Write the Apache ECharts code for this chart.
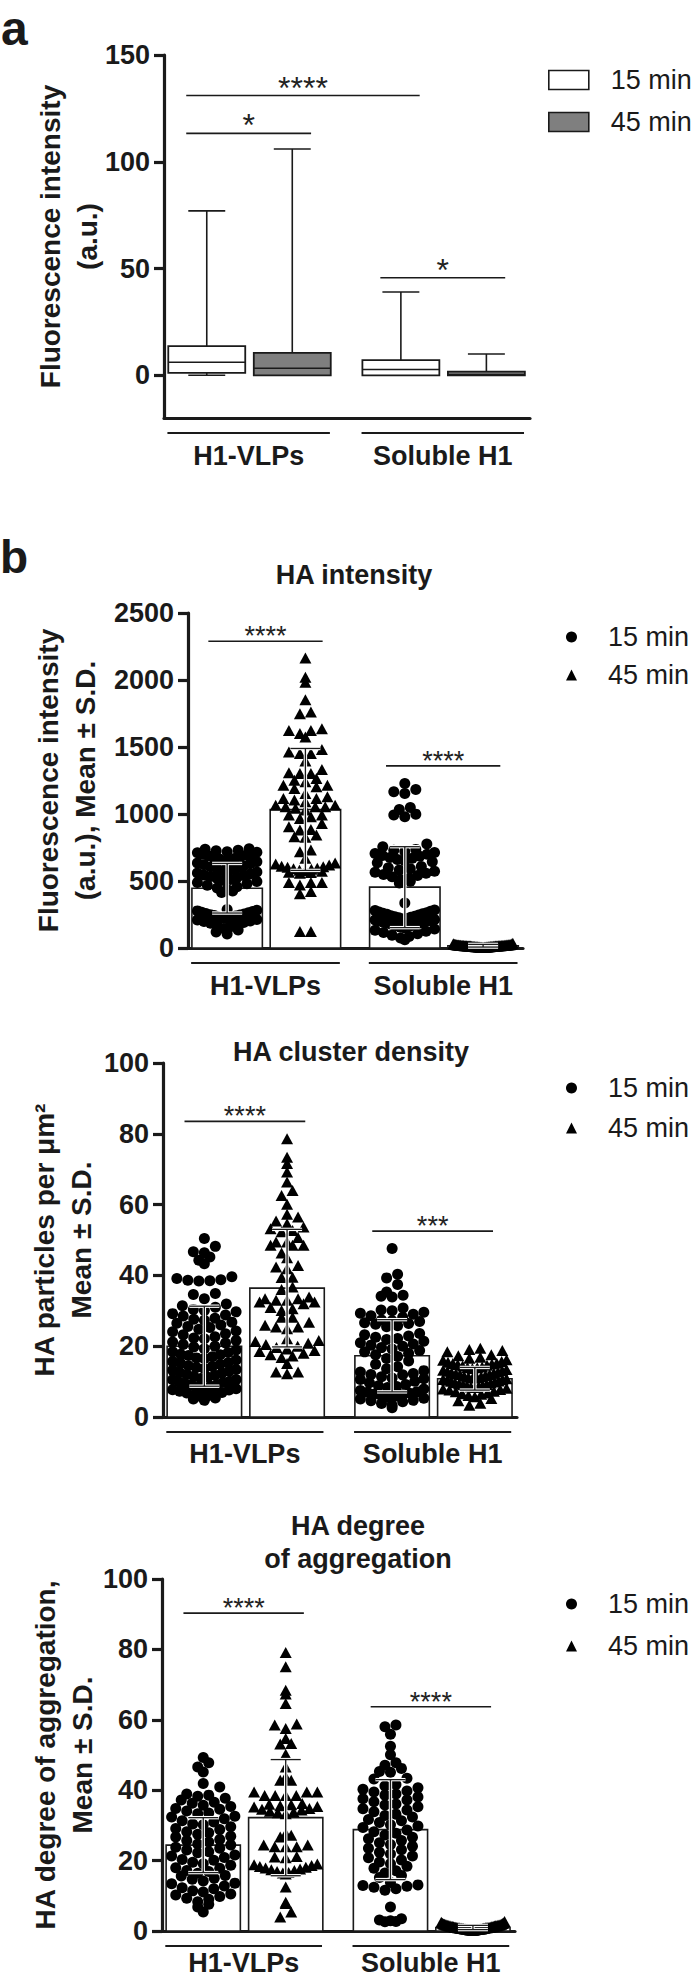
<!DOCTYPE html>
<html>
<head>
<meta charset="utf-8">
<title>HA figure</title>
<script src="https://cdn.jsdelivr.net/npm/echarts@6.0.0/dist/echarts.min.js"></script>
<style>
  html, body { margin: 0; padding: 0; background: #fff; }
  #chart { width: 697px; height: 1981px; }
</style>
</head>
<body>
<div id="chart"></div>
<script>
// groups and time points
const groupNames = ['H1-VLPs', 'Soluble H1'];
const timeNames = ['15 min', '45 min'];

// panel a, box plots: [min, q1, median, q3, max]
const boxH1_15 = [0, 1.1, 6.1, 13.7, 77];
const boxH1_45 = [0, 0, 3.3, 10.5, 106];
const boxSol_15 = [0, 0, 2.7, 7.1, 39];
const boxSol_45 = [0, 0, 0.4, 1.7, 10];
const aTicks = [0, 50, 100, 150];
// significance bars: [from column, to column, height, stars]
const sigA = [[0, 2, 131, '****'], [0, 1, 113.3, '*'], [2, 3, 45.7, '*']];

// panel b, HA intensity (columns: H1 15, H1 45, Sol 15, Sol 45)
const intH1_15 = [741, 737, 730, 726, 719, 714, 711, 703, 699, 692, 688, 683, 676, 669, 666, 657, 650, 644, 634, 628,
  621, 612, 606, 597, 589, 583, 574, 567, 560, 553, 545, 541, 533, 526, 519, 511, 504, 496, 488, 479, 469, 457, 448,
  437, 425, 414, 287, 282, 277, 272, 266, 263, 258, 254, 249, 247, 242, 238, 232, 229, 223, 219, 213, 209, 202, 198,
  191, 184, 175, 167, 158, 146, 134, 119, 105];
const intH1_45 = [2165, 2021, 1984, 1853, 1761, 1748, 1637, 1624, 1624, 1600, 1575, 1481, 1463, 1451, 1451, 1396,
  1332, 1307, 1302, 1302, 1265, 1252, 1240, 1215, 1215, 1203, 1190, 1153, 1128, 1116, 1116, 1104, 1091, 1066, 1066,
  1054, 1054, 1054, 1042, 1029, 992, 992, 980, 967, 930, 905, 885, 880, 843, 831, 826, 732, 719, 670, 634, 627, 619,
  611, 603, 596, 588, 580, 572, 565, 558, 563, 576, 591, 606, 489, 489, 489, 471, 422, 404, 124, 124];
const intSol_15 = [1228, 1183, 1166, 1153, 1049, 1034, 999, 992, 980, 776, 756, 736, 729, 721, 713, 706, 699, 691, 684,
  676, 669, 661, 652, 643, 636, 609, 599, 591, 582, 573, 566, 557, 549, 541, 531, 521, 511, 499, 486, 335, 283, 279,
  274, 269, 263, 259, 255, 251, 246, 241, 237, 233, 229, 225, 221, 217, 213, 209, 205, 201, 197, 193, 189, 185, 181,
  176, 171, 166, 161, 155, 149, 141, 133, 125, 116, 106, 96, 86, 74, 62];
const intSol_45 = [36, 31, 29, 28, 26, 25, 24, 24, 23, 22, 22, 21, 20, 20, 19, 19, 18, 18, 18, 17, 17, 16, 16, 16, 15,
  15, 15, 14, 14, 14, 13, 13, 12, 12, 12, 11, 11, 10, 10, 9, 9, 8, 8, 7, 7, 6, 6, 5, 5, 4, 3, 27, 23, 21, 17, 13, 11,
  9, 19, 15];
const intMean = [446, 1034, 454, 17];
const intSD = [185, 455, 302, 10];
const sigInt = [[0, 1, 2289, '****'], [2, 3, 1359, '****']];

// panel b, HA cluster density
const denH1_15 = [50.4, 48.2, 46.7, 46.4, 45.2, 44.3, 43.3, 39.6, 39.1, 38.8, 38.6, 38.4, 38.5, 34.9, 34.6, 33.4,
  31.9, 31.4, 31.0, 30.4, 30.1, 29.7, 29.2, 28.8, 28.5, 27.9, 27.6, 27.3, 26.8, 26.5, 26.0, 25.6, 25.3, 24.8, 24.3,
  24.1, 23.5, 23.2, 22.7, 22.3, 22.1, 21.6, 21.2, 20.9, 20.5, 20.0, 19.8, 19.3, 18.9, 18.4, 18.2, 17.6, 17.4, 17.0,
  16.5, 16.1, 15.7, 15.3, 14.9, 14.3, 14.0, 13.7, 13.2, 12.9, 12.4, 12.0, 11.8, 11.2, 10.9, 10.5, 10.1, 9.8, 9.4, 9.1,
  8.7, 8.3, 8.0, 7.6, 7.3, 6.9, 6.5, 6.2, 5.8, 5.4, 5.1, 4.7, 6.0, 6.8, 7.7, 8.4, 9.2, 9.9, 10.6, 11.5, 12.6, 13.4,
  14.5, 15.2, 16.7, 17.7];
const denH1_45 = [78.6, 73.4, 71.6, 69.2, 66.4, 64.0, 62.6, 60.1, 57.3, 56.5, 55.4, 54.6, 53.7, 53.2, 52.7, 52.3, 50.7,
  49.4, 49.4, 48.5, 48.5, 48.5, 46.3, 45.0, 42.8, 42.4, 41.9, 39.5, 39.4, 36.7, 36.0, 33.9, 33.4, 33.4, 33.0, 33.0,
  32.5, 32.5, 32.0, 30.9, 30.6, 30.1, 28.2, 28.2, 26.8, 25.9, 25.4, 25.4, 24.9, 22.1, 21.6, 21.3, 20.8, 20.5, 20.0,
  19.6, 19.2, 18.8, 18.5, 18.0, 17.6, 17.2, 16.8, 15.1, 12.7, 12.7, 12.2];
const denSol_15 = [47.6, 40.3, 39.3, 37.4, 35.3, 34.4, 34.1, 33.9, 30.8, 30.2, 30.0, 29.6, 29.3, 29.0, 28.6, 28.2, 27.4,
  27.2, 27.0, 26.6, 26.4, 26.2, 25.8, 25.5, 23.6, 23.2, 22.9, 22.5, 22.2, 21.9, 21.4, 21.0, 20.6, 20.3, 20.0, 19.6,
  19.2, 18.8, 18.4, 18.0, 17.6, 17.1, 16.5, 15.8, 14.9, 14.2, 13.6, 13.1, 12.7, 12.3, 11.9, 11.4, 11.0, 10.6, 10.1,
  9.7, 9.2, 8.8, 8.3, 7.9, 7.5, 7.1, 6.7, 6.3, 5.9, 5.5, 5.1, 4.7, 4.3, 3.8, 3.3, 2.6, 12.0, 10.8, 8.6, 7.0, 6.0, 5.3,
  4.6, 6.5];
const denSol_45 = [19.4, 19.1, 18.8, 18.4, 17.6, 17.3, 16.9, 16.6, 16.2, 16.0, 15.7, 15.5, 15.2, 15.0, 14.6, 14.4, 14.1,
  13.9, 13.7, 13.4, 13.1, 12.9, 12.7, 12.4, 12.2, 12.0, 11.7, 11.5, 11.2, 11.0, 10.8, 10.6, 10.4, 10.1, 9.9, 9.7, 9.4,
  9.2, 9.0, 8.8, 8.5, 8.3, 8.1, 7.8, 7.6, 7.3, 7.1, 6.8, 6.4, 6.1, 5.7, 5.2, 4.6, 3.9, 3.3, 12.0, 11.4, 10.5, 9.6, 8.7,
  13.2, 14.0, 15.1, 10.2, 9.1, 11.1, 12.5, 7.9, 6.6, 14.8];
const denMean = [20, 36.4, 17.3, 10.8];
const denSD = [11.3, 16.6, 10.2, 3.2];
const sigDen = [[0, 1, 83.5, '****'], [2, 3, 52.5, '***']];

// panel b, HA degree of aggregation
const aggH1_15 = [49.3, 47.8, 46.6, 45.2, 41.9, 40.9, 38.9, 38.6, 38.3, 37.7, 37.2, 36.6, 36.3, 35.7, 35.4, 34.8, 34.6,
  34.1, 33.5, 33.3, 32.6, 32.4, 31.9, 31.3, 31.0, 30.4, 30.2, 29.6, 29.1, 28.8, 28.2, 27.9, 27.5, 26.9, 26.7, 26.0,
  25.7, 25.3, 24.7, 24.4, 23.8, 23.5, 23.0, 22.5, 22.2, 21.6, 21.3, 20.9, 20.3, 20.1, 19.5, 19.1, 18.7, 18.0, 17.8,
  17.2, 16.9, 16.4, 15.8, 15.6, 15.0, 14.7, 14.2, 13.6, 13.4, 12.8, 12.3, 12.0, 11.4, 11.1, 10.5, 10.2, 9.8, 9.3, 9.0,
  8.3, 7.6, 6.8, 5.4];
const aggH1_45 = [79.1, 75.1, 68.4, 67.3, 64.6, 58.8, 58.5, 57.5, 54.7, 53.3, 53.1, 50.2, 46.6, 43.8, 42.8, 42.8, 39.5,
  39.5, 39.5, 38.5, 38.5, 38.5, 38.5, 36.2, 35.9, 35.6, 35.2, 34.8, 34.4, 34.0, 33.6, 33.3, 33.8, 34.6, 35.4, 36.0,
  27.7, 27.2, 26.7, 24.4, 24.4, 23.9, 23.9, 23.9, 21.2, 21.0, 20.8, 19.0, 18.6, 18.3, 17.9, 17.6, 17.2, 16.9, 16.5,
  16.2, 16.6, 17.4, 18.1, 18.8, 12.5, 8.2, 7.8, 5.4, 4.0];
const aggSol_15 = [58.5, 58.0, 55.9, 52.5, 50.1, 47.8, 47.1, 46.2, 45.3, 45.1, 43.4, 43.2, 41.6, 41.2, 40.7, 40.3, 39.8,
  39.5, 38.9, 38.6, 38.1, 37.6, 37.2, 36.7, 36.1, 35.8, 35.3, 34.7, 34.4, 33.9, 33.2, 32.8, 32.4, 31.7, 31.3, 30.8,
  30.2, 29.8, 29.4, 28.7, 28.2, 27.8, 27.3, 26.6, 26.2, 25.7, 25.1, 24.6, 24.1, 23.5, 23.1, 22.4, 21.9, 21.3, 20.8,
  20.2, 19.6, 19.1, 18.4, 17.8, 17.1, 16.5, 15.8, 15.2, 13.8, 13.1, 12.7, 12.4, 12.0, 11.6, 12.9, 6.8, 3.5, 3.1, 2.9,
  2.7, 2.6];
const aggSol_45 = [2.7, 2.5, 2.3, 2.2, 2.0, 1.9, 1.8, 1.8, 1.7, 1.6, 1.6, 1.5, 1.5, 1.4, 1.4, 1.3, 1.3, 1.2, 1.2, 1.1,
  1.1, 1.0, 1.0, 1.0, 0.9, 0.9, 0.9, 0.8, 0.8, 0.8, 0.7, 0.7, 0.7, 0.6, 0.6, 0.6, 0.5, 0.5, 0.5, 0.4, 0.4, 0.4, 0.3,
  0.3, 0.3, 0.2, 0.2, 1.9, 1.5, 1.1, 0.9, 0.6, 2.1, 1.3, 0.8, 0.5, 1.7, 1.2];
const aggMean = [24.4, 32.2, 28.8, 1.0];
const aggSD = [7.8, 16.5, 14.2, 0.6];
const sigAgg = [[0, 1, 90.3, '****'], [2, 3, 63.7, '****']];

// ---- layout ----
const FONT = "'Liberation Sans', Arial, Helvetica, sans-serif";
const INK = '#1a1a1a';
const POS = [0.5, 1.5, 2.77, 3.77];   // column centres on the hidden x axis
const XMAX = 4.28;
const BAR_W = 0.9;
const DOT = 11;
const ROW = 9.6;                       // row height of the column scatter, px
const grids = [
  { left: 164, top: 55, width: 366, height: 363 },
  { left: 188, top: 613, width: 335, height: 335 },
  { left: 163, top: 1063, width: 354, height: 354 },
  { left: 162, top: 1579, width: 353, height: 352 }
];
const yRanges = [[-20, 150], [0, 2500], [0, 100], [0, 100]];
const labelDrop = [38, 38, 37, 32];

// GraphPad-like column scatter: bin by row, lowest value in the middle
function swarm(values, center, gi) {
  const g = grids[gi], yr = yRanges[gi];
  const pxY = g.height / (yr[1] - yr[0]);
  const pxX = g.width / XMAX;
  const maxOff = BAR_W * pxX / 2 - DOT / 2;
  const rows = new Map();
  values.forEach(v => {
    const r = Math.floor((v - yr[0]) * pxY / ROW);
    if (!rows.has(r)) rows.set(r, []);
    rows.get(r).push(v);
  });
  const out = [];
  rows.forEach(list => {
    list.sort((a, b) => a - b);
    const n = list.length;
    const step = n > 1 ? Math.min(DOT, 2 * maxOff / (n - 1)) : 0;
    const slots = list.map((_, i) => (i - (n - 1) / 2) * step)
      .sort((a, b) => Math.abs(a) - Math.abs(b));
    list.forEach((v, i) => out.push([center + slots[i] / pxX, v]));
  });
  return out;
}

function makeBox(fill) {
  return function (params, api) {
    const x = api.value(0);
    const half = api.size([BAR_W, 0])[0] / 2;
    const cap = half * 0.48;
    const cx = api.coord([x, 0])[0];
    const py = i => api.coord([x, api.value(i)])[1];
    const yMin = py(1), yQ1 = py(2), yMed = py(3), yQ3 = py(4), yMax = py(5);
    const st = { stroke: INK, lineWidth: 1.6 };
    const kids = [
      { type: 'line', shape: { x1: cx, y1: yMax, x2: cx, y2: yQ3 }, style: st },
      { type: 'line', shape: { x1: cx - cap, y1: yMax, x2: cx + cap, y2: yMax }, style: st }
    ];
    if (api.value(1) < api.value(2)) {
      kids.push({ type: 'line', shape: { x1: cx, y1: yQ1, x2: cx, y2: yMin }, style: st });
      kids.push({ type: 'line', shape: { x1: cx - cap, y1: yMin, x2: cx + cap, y2: yMin }, style: st });
    }
    kids.push({ type: 'rect', shape: { x: cx - half, y: yQ3, width: 2 * half, height: Math.max(yQ1 - yQ3, 1) },
      style: { fill: fill, stroke: INK, lineWidth: 1.8 } });
    kids.push({ type: 'line', shape: { x1: cx - half, y1: yMed, x2: cx + half, y2: yMed }, style: st });
    return { type: 'group', children: kids };
  };
}

function renderBar(params, api) {
  const x = api.value(0);
  const p0 = api.coord([x, 0]);
  const p1 = api.coord([x, api.value(1)]);
  const half = api.size([BAR_W, 0])[0] / 2;
  return { type: 'rect', shape: { x: p0[0] - half, y: p1[1], width: 2 * half, height: p0[1] - p1[1] },
    style: { fill: '#fff', stroke: INK, lineWidth: 1.6 } };
}

function renderErr(params, api) {
  const x = api.value(0), m = api.value(1), s = api.value(2);
  const lo = api.coord([x, Math.max(m - s, 0)]);
  const hi = api.coord([x, m + s]);
  const cap = 15;
  const segs = [[lo[0], lo[1], hi[0], hi[1]], [hi[0] - cap, hi[1], hi[0] + cap, hi[1]],
    [lo[0] - cap, lo[1], lo[0] + cap, lo[1]]];
  const kids = [];
  segs.forEach(q => kids.push({ type: 'line', shape: { x1: q[0], y1: q[1], x2: q[2], y2: q[3] },
    style: { stroke: '#fff', lineWidth: 3.4 } }));
  segs.forEach(q => kids.push({ type: 'line', shape: { x1: q[0], y1: q[1], x2: q[2], y2: q[3] },
    style: { stroke: INK, lineWidth: 1.3 } }));
  return { type: 'group', children: kids };
}

function makeSig(list, fontSize, lift) {
  return function (params, api) {
    const s = list[params.dataIndex];
    const p1 = api.coord([POS[s[0]] - 0.24, s[2]]);
    const p2 = api.coord([POS[s[1]] + 0.22, s[2]]);
    return { type: 'group', children: [
      { type: 'line', shape: { x1: p1[0], y1: p1[1], x2: p2[0], y2: p2[1] }, style: { stroke: INK, lineWidth: 1.6 } },
      { type: 'text', x: (p1[0] + p2[0]) / 2, y: p1[1] - lift,
        style: { text: s[3], font: fontSize + 'px ' + FONT, fill: '#222', align: 'center', verticalAlign: 'middle' } }
    ] };
  };
}

function makeGroups(drop) {
  return function (params, api) {
    const a = api.coord([api.value(0), api.value(2)]);
    const b = api.coord([api.value(1), api.value(2)]);
    const y = a[1];
    return { type: 'group', children: [
      { type: 'line', shape: { x1: a[0], y1: y + 15, x2: b[0], y2: y + 15 }, style: { stroke: INK, lineWidth: 2 } },
      { type: 'text', x: (a[0] + b[0]) / 2, y: y + drop,
        style: { text: groupNames[params.dataIndex], font: 'bold 27px ' + FONT, fill: INK, align: 'center', verticalAlign: 'middle' } }
    ] };
  };
}

const axisLineStyle = { color: INK, width: 3.2 };
function yAxisCfg(gi, name, gap, extraTick, extraLabel, interval) {
  return {
    type: 'value', gridIndex: gi, min: yRanges[gi][0], max: yRanges[gi][1], interval: interval,
    name: name, nameLocation: 'middle', nameGap: gap, nameRotate: 90, nameMoveOverlap: false,
    nameTextStyle: { fontFamily: FONT, fontWeight: 'bold', fontSize: 28, lineHeight: 37, color: INK },
    axisLine: { show: true, onZero: false, lineStyle: axisLineStyle },
    axisTick: Object.assign({ show: true, inside: false, length: 10, lineStyle: axisLineStyle }, extraTick),
    axisLabel: Object.assign({ fontFamily: FONT, fontWeight: 'bold', fontSize: 27, color: INK, margin: 14,
      formatter: v => String(v) }, extraLabel),
    splitLine: { show: false }
  };
}
function xAxisCfg(gi) {
  return { type: 'value', gridIndex: gi, min: 0, max: XMAX,
    axisLine: { show: true, onZero: false, lineStyle: axisLineStyle },
    axisTick: { show: false }, axisLabel: { show: false }, splitLine: { show: false } };
}

const series = [];
// panel a
[[boxH1_15, boxSol_15], [boxH1_45, boxSol_45]].forEach((pair, t) => {
  series.push({ type: 'custom', name: timeNames[t], xAxisIndex: 0, yAxisIndex: 0, z: 2, silent: true,
    renderItem: makeBox(t === 0 ? '#fff' : '#7f7f7f'),
    data: [[POS[t], ...pair[0]], [POS[t + 2], ...pair[1]]] });
});
series.push({ type: 'custom', name: 'sigA', xAxisIndex: 0, yAxisIndex: 0, z: 4, silent: true,
  renderItem: makeSig(sigA, 32, 8), data: sigA.map(s => [POS[s[0]], s[2]]) });

const panels = [
  { gi: 1, vals: [intH1_15, intH1_45, intSol_15, intSol_45], mean: intMean, sd: intSD, sig: sigInt },
  { gi: 2, vals: [denH1_15, denH1_45, denSol_15, denSol_45], mean: denMean, sd: denSD, sig: sigDen },
  { gi: 3, vals: [aggH1_15, aggH1_45, aggSol_15, aggSol_45], mean: aggMean, sd: aggSD, sig: sigAgg }
];
panels.forEach(p => {
  const gi = p.gi;
  series.push({ type: 'custom', name: 'bars' + gi, xAxisIndex: gi, yAxisIndex: gi, z: 1, silent: true,
    renderItem: renderBar, data: p.mean.map((m, i) => [POS[i], m, p.sd[i]]) });
  series.push({ type: 'scatter', name: timeNames[0], xAxisIndex: gi, yAxisIndex: gi, z: 3, silent: true,
    symbol: 'circle', symbolSize: DOT, itemStyle: { color: '#000', opacity: 1 },
    data: swarm(p.vals[0], POS[0], gi).concat(swarm(p.vals[2], POS[2], gi)) });
  series.push({ type: 'scatter', name: timeNames[1], xAxisIndex: gi, yAxisIndex: gi, z: 3, silent: true,
    symbol: 'triangle', symbolSize: [12, 11], itemStyle: { color: '#000', opacity: 1 },
    data: swarm(p.vals[1], POS[1], gi).concat(swarm(p.vals[3], POS[3], gi)) });
  series.push({ type: 'custom', name: 'err' + gi, xAxisIndex: gi, yAxisIndex: gi, z: 5, silent: true,
    renderItem: renderErr, data: p.mean.map((m, i) => [POS[i], m, p.sd[i]]) });
  series.push({ type: 'custom', name: 'sig' + gi, xAxisIndex: gi, yAxisIndex: gi, z: 4, silent: true,
    renderItem: makeSig(p.sig, 27, 5), data: p.sig.map(s => [POS[s[0]], s[2]]) });
});
[0, 1, 2, 3].forEach(gi => {
  series.push({ type: 'custom', name: 'groups' + gi, xAxisIndex: gi, yAxisIndex: gi, clip: false, silent: true,
    renderItem: makeGroups(labelDrop[gi]),
    data: [[POS[0] - 0.46, POS[1] + 0.44, yRanges[gi][0]], [POS[2] - 0.46, POS[3] + 0.44, yRanges[gi][0]]] });
});

function legendCfg(top, gap, left, w, h, pad, items) {
  return { top: top, left: left, orient: 'vertical', padding: 0, itemWidth: w, itemHeight: h, itemGap: gap,
    selectedMode: false,
    textStyle: { fontFamily: FONT, fontSize: 27, lineHeight: 30, color: INK, padding: [0, 0, 0, pad] },
    data: items };
}
const dotItems = [
  { name: timeNames[0], icon: 'circle', itemStyle: { color: '#000', opacity: 1 } },
  { name: timeNames[1], icon: 'triangle', itemStyle: { color: '#000', opacity: 1 } }
];

const option = {
  animation: false,
  backgroundColor: '#fff',
  grid: grids,
  xAxis: [0, 1, 2, 3].map(xAxisCfg),
  yAxis: [
    yAxisCfg(0, 'Fluorescence intensity\n(a.u.)', 58, { customValues: aTicks }, { customValues: aTicks }),
    yAxisCfg(1, 'Fluorescence intensity\n(a.u.), Mean ± S.D.', 84, {}, {}, 500),
    yAxisCfg(2, 'HA particles per μm²\nMean ± S.D.', 63, {}, {}, 20),
    yAxisCfg(3, 'HA degree of aggregation,\nMean ± S.D.', 61, {}, {}, 20)
  ],
  legend: [
    legendCfg(65, 12, 548, 40, 19, 17, [
      { name: timeNames[0], icon: 'rect', itemStyle: { color: '#fff', borderColor: INK, borderWidth: 1.6 } },
      { name: timeNames[1], icon: 'rect', itemStyle: { color: '#7f7f7f', borderColor: INK, borderWidth: 1.6 } }
    ]),
    legendCfg(622, 8, 566, 11, 11, 26, dotItems),
    legendCfg(1073, 10, 566, 11, 11, 26, dotItems),
    legendCfg(1589, 12, 566, 11, 11, 26, dotItems)
  ],
  graphic: [
    { type: 'text', x: 1, y: 28, style: { text: 'a', font: 'bold 48px ' + FONT, fill: INK, verticalAlign: 'middle' } },
    { type: 'text', x: 0, y: 557, style: { text: 'b', font: 'bold 46px ' + FONT, fill: INK, verticalAlign: 'middle' } },
    { type: 'text', x: 354, y: 575, style: { text: 'HA intensity', font: 'bold 27px ' + FONT, fill: INK, align: 'center', verticalAlign: 'middle' } },
    { type: 'text', x: 351, y: 1052, style: { text: 'HA cluster density', font: 'bold 27px ' + FONT, fill: INK, align: 'center', verticalAlign: 'middle' } },
    { type: 'text', x: 358, y: 1542, style: { text: 'HA degree\nof aggregation', font: 'bold 27px ' + FONT, lineHeight: 33, fill: INK, align: 'center', verticalAlign: 'middle' } }
  ],
  series: series
};

const chart = echarts.init(document.getElementById('chart'), null, { renderer: 'svg' });
chart.setOption(option);
</script>
</body>
</html>
